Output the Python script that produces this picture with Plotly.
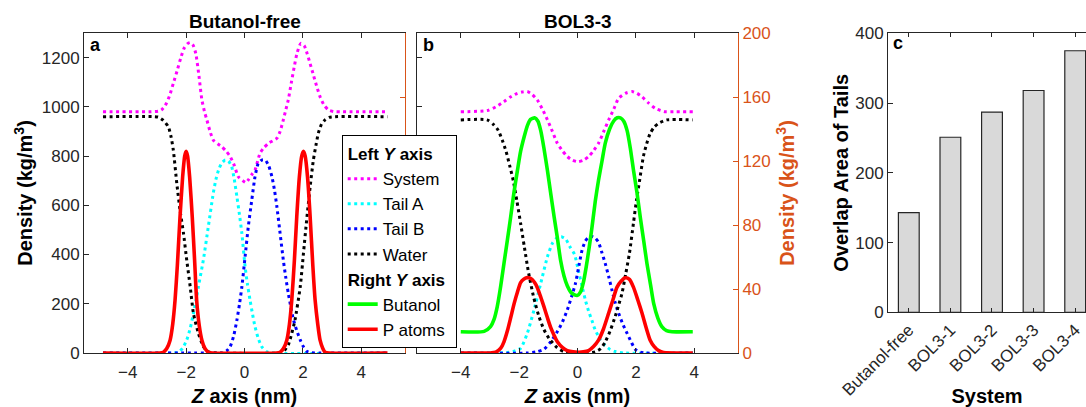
import plotly.graph_objects as go

# ---------------- DATA ----------------
# Panel a (Butanol-free): left axis (kg/m^3)
sys_a_z = [-4.85, -3.2, -2.95, -2.85, -2.72, -2.58, -2.44, -2.30, -2.18, -2.07, -1.96, -1.86, -1.76, -1.67,
           -1.56, -1.46, -1.37, -1.29, -1.18, -1.07, -0.92, -0.78, -0.63, -0.49, -0.35, -0.21, -0.06, 0.05,
           0.13, 0.25, 0.36, 0.53, 0.65, 0.82, 0.97, 1.11, 1.22, 1.33, 1.42, 1.50, 1.60, 1.70, 1.80, 1.93,
           2.05, 2.15, 2.25, 2.36, 2.47, 2.59, 2.72, 2.88, 3.05, 3.3, 4.9]
sys_a = [980, 980, 982, 987, 1005, 1041, 1095, 1150, 1200, 1238, 1256, 1261, 1250, 1217,
         1125, 1028, 980, 947, 900, 865, 850, 838, 820, 798, 762, 716, 700, 692,
         703, 725, 743, 811, 832, 852, 862, 872, 900, 947, 990, 1028, 1095, 1160, 1218, 1258,
         1248, 1215, 1175, 1130, 1085, 1041, 1008, 987, 981, 980, 980]

tailA_a_z = [-4.85, -2.6, -2.27, -2.12, -1.98, -1.86, -1.75, -1.66, -1.58, -1.41, -1.24, -1.07, -0.98, -0.89,
             -0.78, -0.66, -0.55, -0.44, -0.35, -0.26, -0.17, -0.09, 0.02, 0.10, 0.19, 0.28, 0.36, 0.47,
             0.59, 0.75, 0.95, 4.9]
tailA_a = [0, 0, 3, 20, 53, 100, 161, 215, 269, 378, 513, 649, 705, 743,
           772, 784, 780, 757, 705, 635, 560, 486, 351, 280, 215, 155, 107, 60,
           26, 6, 0, 0]

tailB_a_z = [-4.85, -0.95, -0.78, -0.62, -0.49, -0.37, -0.26, -0.17, -0.09, 0.02, 0.13, 0.25, 0.36, 0.47,
             0.59, 0.71, 0.83, 0.94, 1.03, 1.11, 1.22, 1.33, 1.41, 1.50, 1.59, 1.68, 1.80, 1.91, 2.02,
             2.13, 2.3, 2.6, 4.9]
tailB_a = [0, 0, 0.5, 8, 26, 70, 134, 200, 269, 391, 513, 622, 716, 770,
           784, 784, 760, 716, 660, 594, 486, 378, 310, 243, 185, 134, 88, 53, 25,
           7, 1, 0, 0]

water_a_z = [-4.85, -3.1, -2.95, -2.78, -2.61, -2.52, -2.44, -2.32, -2.21, -2.09, -1.98, -1.86, -1.75,
             -1.58, -1.41, -1.29, -1.15, -1.0, 1.2, 1.33, 1.50, 1.62, 1.73, 1.91, 2.02, 2.13, 2.25,
             2.36, 2.45, 2.53, 2.64, 2.76, 2.9, 3.1, 4.9]
water_a = [960, 960, 958, 945, 919, 880, 825, 689, 581, 486, 378, 269, 161,
           80, 26, 8, 2, 0, 0, 5, 33, 80, 134, 269, 405, 540, 676,
           784, 845, 893, 930, 947, 957, 960, 960]

# Panel a: right axis
patoms_a_z = [-4.85, -2.9, -2.78, -2.66, -2.55, -2.46, -2.38, -2.30, -2.21, -2.12, -2.05, -2.0, -1.95,
              -1.88, -1.79, -1.71, -1.64, -1.55, -1.46, -1.36, -1.24, -1.1, 1.1, 1.22, 1.34, 1.45, 1.54,
              1.62, 1.71, 1.79, 1.88, 1.96, 2.02, 2.08, 2.16, 2.25, 2.34, 2.42, 2.51, 2.59, 2.68, 2.76,
              2.9, 4.9]
patoms_a = [0, 0, 0.5, 3, 8, 18, 33, 55, 85, 110, 123, 126, 123,
            110, 85, 58, 33, 17, 8, 3, 0.5, 0, 0, 0.5, 3, 8, 18,
            33, 58, 85, 110, 123, 126, 123, 110, 85, 55, 33, 18, 8, 3, 0.5,
            0, 0]

# Panel b (BOL3-3): left axis
sys_b_z = [-4.0, -3.09, -2.8, -2.52, -2.3, -2.06, -1.9, -1.72, -1.55, -1.38, -1.2, -1.03, -0.86, -0.69,
           -0.52, -0.35, -0.17, 0.02, 0.2, 0.38, 0.55, 0.72, 0.9, 1.07, 1.24, 1.41, 1.64, 1.87, 2.04,
           2.21, 2.44, 2.66, 2.85, 3.01, 3.3, 3.95]
sys_b = [980, 985, 1000, 1021, 1040, 1055, 1060, 1062, 1050, 1028, 990, 947, 900, 852,
         822, 798, 783, 777, 783, 798, 822, 852, 900, 947, 990, 1035, 1055, 1062, 1055,
         1041, 1015, 994, 985, 980, 980, 980]

tailA_b_z = [-4.0, -2.9, -2.4, -2.2, -1.95, -1.72, -1.49, -1.26, -1.03, -0.86, -0.7, -0.55, -0.4, -0.25,
             -0.1, 0.02, 0.15, 0.27, 0.38, 0.5, 0.61, 0.78, 0.95, 1.12, 1.29, 1.6, 3.95]
tailA_b = [0, 0, 2, 6, 19, 80, 175, 283, 391, 446, 468, 472, 462, 430,
           400, 340, 275, 215, 170, 130, 93, 55, 30, 14, 6, 0, 0]

tailB_b_z = [-4.0, -1.72, -1.4, -1.15, -0.92, -0.69, -0.52, -0.35, -0.2, -0.07, 0.05, 0.16, 0.27, 0.38,
             0.5, 0.6, 0.72, 0.83, 0.95, 1.07, 1.18, 1.29, 1.41, 1.55, 1.70, 1.84, 1.98, 2.15, 2.3, 3.95]
tailB_b = [0, 0, 5, 15, 45, 87, 125, 175, 230, 283, 355, 420, 455, 470,
           473, 468, 450, 410, 364, 310, 256, 205, 161, 118, 80, 45, 15, 4, 0, 0]

water_b_z = [-4.0, -3.1, -2.86, -2.72, -2.58, -2.45, -2.33, -2.2, -2.08, -1.95, -1.82, -1.68, -1.5,
             -1.32, -1.15, -0.95, -0.7, -0.46, -0.2, 0.3, 0.61, 0.8, 0.95, 1.12, 1.29, 1.41, 1.52, 1.65,
             1.78, 1.92, 2.02, 2.12, 2.26, 2.37, 2.49, 2.63, 2.78, 3.06, 3.95]
water_b = [947, 947, 926, 905, 865, 820, 764, 700, 620, 527, 430, 328, 225,
           148, 95, 55, 22, 5, 0, 0, 5, 18, 45, 90, 148, 195, 240, 320,
           405, 530, 620, 695, 800, 850, 892, 918, 933, 947, 947]

# Panel b: right axis
butanol_b_z = [-4.0, -3.2, -2.98, -2.86, -2.75, -2.63, -2.52, -2.40, -2.29, -2.18, -2.06, -1.95, -1.83,
               -1.72, -1.61, -1.47, -1.36, -1.26, -1.15, -1.03, -0.92, -0.80, -0.69, -0.58, -0.46, -0.35,
               -0.23, -0.12, 0.0, 0.1, 0.2, 0.3, 0.4, 0.5, 0.61, 0.72, 0.84, 0.95, 1.1, 1.24, 1.36, 1.47,
               1.58, 1.70, 1.81, 1.92, 2.04, 2.15, 2.27, 2.38, 2.5, 2.61, 2.75, 2.89, 3.05, 3.24, 3.95]
butanol_b = [13.3, 13.5, 16.5, 21, 29, 42, 56, 71, 85, 100, 114, 126, 135,
             142, 146, 147, 145, 139, 128, 114, 100, 85, 72, 58, 48, 42,
             38, 36.5, 36, 38, 44, 54, 66, 79, 95, 108, 120, 131, 140, 145, 147, 147,
             145, 139, 128, 114, 100, 85, 70, 56, 43, 31, 22, 16.5, 14, 13.3, 13.3]

patoms_b_z = [-4.0, -3.0, -2.8, -2.63, -2.52, -2.40, -2.29, -2.17, -2.06, -1.95, -1.85, -1.75, -1.66,
              -1.56, -1.47, -1.38, -1.26, -1.15, -1.03, -0.92, -0.80, -0.69, -0.52, -0.35, -0.15, 0.05,
              0.2, 0.38, 0.55, 0.72, 0.89, 1.07, 1.21, 1.35, 1.5, 1.64, 1.78, 1.92, 2.07, 2.21, 2.35,
              2.49, 2.63, 2.78, 2.95, 3.95]
patoms_b = [0, 0, 0.5, 3, 7, 14, 22, 31, 38, 44, 46, 47, 47,
            46, 44, 41, 35, 29, 22, 16, 11, 7, 3.5, 1.5, 0.7, 0.5,
            0.7, 1.5, 4, 8, 15, 25, 33, 41, 45, 47, 46, 41, 33, 25, 16,
            8, 4, 1.5, 0.3, 0]

# Panel c
systems = ["Butanol-free", "BOL3-1", "BOL3-2", "BOL3-3", "BOL3-4"]
overlap = [143, 251, 287, 318, 375]

left_ticks = [0, 200, 400, 600, 800, 1000, 1200]
right_ticks = [0, 40, 80, 120, 160, 200]
z_ticks = [-4, -2, 0, 2, 4]
c_ticks = [0, 100, 200, 300, 400]

# ---------------- STYLE ----------------
FONT = "Liberation Sans, Arial, Helvetica, sans-serif"
AX = "#262626"
ORANGE = "#D95319"
DOT = "3px,3.5px"
DW = 3
SW = 3.6

fig = go.Figure()

def dotted(z, v, color, name, xa, ya, show):
    fig.add_trace(go.Scatter(
        x=z, y=v, mode="lines", name=name, xaxis=xa, yaxis=ya,
        line=dict(color=color, width=DW, dash=DOT, shape="spline", smoothing=0.6),
        showlegend=show, legendgroup="left",
        legendgrouptitle=dict(text="Left <i>Y</i> axis", font=dict(size=17, color="black", weight="bold")),
    ))

def solid(z, v, color, name, xa, ya, show):
    fig.add_trace(go.Scatter(
        x=z, y=v, mode="lines", name=name, xaxis=xa, yaxis=ya,
        line=dict(color=color, width=SW, shape="spline", smoothing=0.6),
        showlegend=show, legendgroup="right",
        legendgrouptitle=dict(text="Right <i>Y</i> axis", font=dict(size=17, color="black", weight="bold")),
    ))

# Panel a
dotted(sys_a_z, sys_a, "#FF00FF", "System", "x", "y", False)
dotted(tailA_a_z, tailA_a, "#00FFFF", "Tail A", "x", "y", False)
dotted(tailB_a_z, tailB_a, "#0000FF", "Tail B", "x", "y", False)
dotted(water_a_z, water_a, "#000000", "Water", "x", "y", False)
solid(patoms_a_z, patoms_a, "#FF0000", "P atoms", "x", "y2", False)

# Panel b
dotted(sys_b_z, sys_b, "#FF00FF", "System", "x2", "y3", True)
dotted(tailA_b_z, tailA_b, "#00FFFF", "Tail A", "x2", "y3", True)
dotted(tailB_b_z, tailB_b, "#0000FF", "Tail B", "x2", "y3", True)
dotted(water_b_z, water_b, "#000000", "Water", "x2", "y3", True)
solid(butanol_b_z, butanol_b, "#00FF00", "Butanol", "x2", "y4", True)
solid(patoms_b_z, patoms_b, "#FF0000", "P atoms", "x2", "y4", True)

# Panel c
fig.add_trace(go.Bar(
    x=systems, y=overlap, xaxis="x3", yaxis="y5", width=0.5,
    marker=dict(color="#D9D9D9", line=dict(color=AX, width=1.2)),
    showlegend=False,
))

tickfont = dict(family=FONT, size=17, color=AX)
titlefont = dict(family=FONT, size=20, color="black", weight="bold")

common_x = dict(range=[-5.5, 5.5], tickvals=z_ticks, ticks="inside", ticklen=5, tickcolor=AX,
                showline=True, linecolor=AX, linewidth=1, mirror="ticks", showgrid=False,
                zeroline=False, tickfont=tickfont, ticklabelstandoff=4, automargin=False,
                title=dict(text="<i>Z</i> axis (nm)", font=titlefont, standoff=7))
left_y = dict(range=[0, 1300], tickvals=left_ticks, ticks="inside", ticklen=5, tickcolor=AX,
              showline=True, linecolor=AX, linewidth=1, showgrid=False, zeroline=False,
              tickfont=tickfont, automargin=False)
right_y = dict(range=[0, 200], tickvals=right_ticks, ticks="inside", ticklen=5, tickcolor=ORANGE,
               showline=True, linecolor=ORANGE, linewidth=1, showgrid=False, zeroline=False,
               tickfont=dict(family=FONT, size=17, color=ORANGE), side="right", automargin=False)

YD = [1 - 353 / 407, 1 - 33 / 407]

fig.update_layout(
    width=1086, height=407,
    margin=dict(l=0, r=0, t=0, b=0, autoexpand=False),
    paper_bgcolor="white", plot_bgcolor="white",
    font=dict(family=FONT, color=AX),
    xaxis=dict(domain=[84 / 1086, 405 / 1086], anchor="y", **common_x),
    yaxis=dict(domain=YD, anchor="x", **left_y,
               title=dict(text="Density (kg/m<sup>3</sup>)", font=titlefont, standoff=3)),
    yaxis2=dict(overlaying="y", anchor="x", showticklabels=False, **right_y),
    xaxis2=dict(domain=[417 / 1086, 738 / 1086], anchor="y3", **common_x),
    yaxis3=dict(domain=YD, anchor="x2", showticklabels=False, **left_y),
    yaxis4=dict(overlaying="y3", anchor="x2", **right_y,
                title=dict(text="Density (kg/m<sup>3</sup>)",
                           font=dict(family=FONT, size=20, color=ORANGE, weight="bold"), standoff=10)),
    xaxis3=dict(domain=[888 / 1086, 1.0], anchor="y5", type="category", range=[-0.5, 4.26],
                ticks="inside", ticklen=4, tickcolor=AX, showline=True, linecolor=AX, linewidth=1,
                mirror="ticks", showgrid=False, tickangle=-45, tickfont=tickfont, automargin=False,
                title=dict(text="System", font=titlefont, standoff=2)),
    yaxis5=dict(domain=[1 - 312.3 / 407, 1 - 33.3 / 407], anchor="x3", range=[0, 400], tickvals=c_ticks,
                ticks="inside", ticklen=5, tickcolor=AX, showline=True, linecolor=AX, linewidth=1,
                showgrid=False, zeroline=False, tickfont=tickfont, automargin=False,
                title=dict(text="Overlap Area of Tails", font=titlefont, standoff=1)),
    legend=dict(x=341.7 / 1086, y=1 - 135 / 407, xanchor="left", yanchor="top",
                bgcolor="white", bordercolor="black", borderwidth=1,
                font=dict(family=FONT, size=17, color="black"),
                itemwidth=30, tracegroupgap=0, traceorder="grouped"),
    annotations=[
        dict(text="<b>Butanol-free</b>", x=245 / 1086, y=1 - 21.7 / 407, xref="paper", yref="paper",
             showarrow=False, font=dict(family=FONT, size=19, color="black"), xanchor="center", yanchor="middle"),
        dict(text="<b>BOL3-3</b>", x=578 / 1086, y=1 - 21.7 / 407, xref="paper", yref="paper",
             showarrow=False, font=dict(family=FONT, size=19, color="black"), xanchor="center", yanchor="middle"),
        dict(text="<b>a</b>", x=88 / 1086, y=1 - 45 / 407, xref="paper", yref="paper",
             showarrow=False, font=dict(family=FONT, size=18, color="black"), xanchor="left", yanchor="middle"),
        dict(text="<b>b</b>", x=421 / 1086, y=1 - 45 / 407, xref="paper", yref="paper",
             showarrow=False, font=dict(family=FONT, size=18, color="black"), xanchor="left", yanchor="middle"),
        dict(text="<b>c</b>", x=891 / 1086, y=1 - 43 / 407, xref="paper", yref="paper",
             showarrow=False, font=dict(family=FONT, size=18, color="black"), xanchor="left", yanchor="middle"),
    ],
)

fig.write_html("out.html")
